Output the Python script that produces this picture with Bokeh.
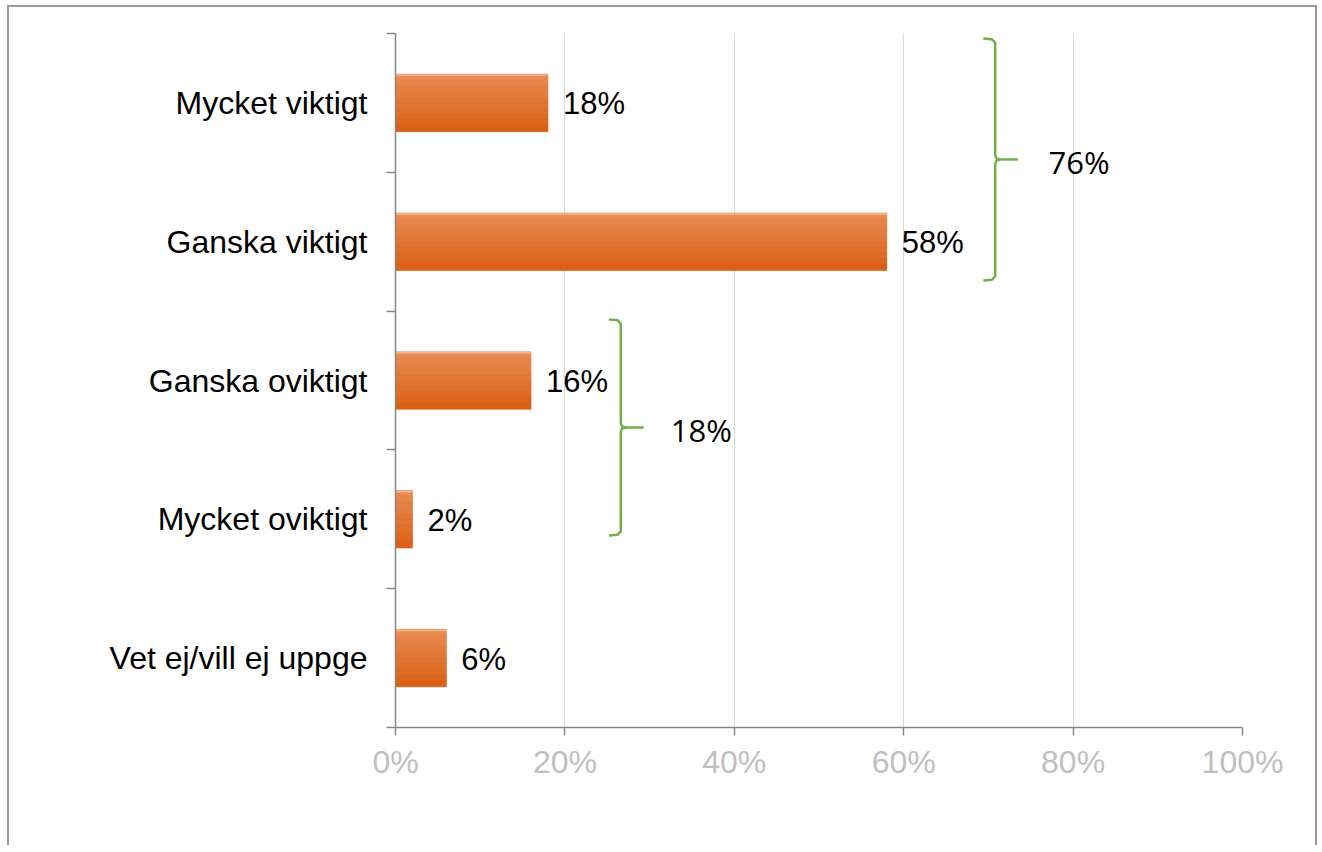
from bokeh.plotting import figure
from bokeh.models import ColumnDataSource, FixedTicker, Range1d
from bokeh.core.properties import value
from bokeh.embed import file_html
from bokeh.resources import INLINE

# ---- data ----
categories = ["Mycket viktigt", "Ganska viktigt", "Ganska oviktigt", "Mycket oviktigt", "Vet ej/vill ej uppge"]
values = [18, 58, 16, 2, 6]
value_labels = ["18%", "58%", "16%", "2%", "6%"]
group_totals = [76, 18]            # sums shown by the braces
group_labels = ["76%", "18%"]
x_ticks = [0, 20, 40, 60, 80, 100]
x_tick_labels = ["0%", "20%", "40%", "60%", "80%", "100%"]

n = len(categories)
centers = [n - 0.5 - i for i in range(n)]

W, H = 1310, 840
p = figure(width=W, height=H, output_backend="svg", toolbar_location=None,
           x_range=Range1d(0, 100), y_range=Range1d(0, n),
           min_border_left=386, min_border_right=77, min_border_top=26, min_border_bottom=120)
p.outline_line_color = None
p.background_fill_color = "white"
p.border_fill_color = "white"
p.styles = {"border-top": "2px solid #9a9a9a", "border-left": "2px solid #9a9a9a",
            "border-right": "2px solid #9a9a9a", "margin-left": "7px", "margin-top": "5px"}

# grid
p.ygrid.grid_line_color = None
p.xgrid.ticker = FixedTicker(ticks=x_ticks[1:])
p.xgrid.grid_line_color = "#D9D9D9"
p.xgrid.grid_line_width = 1

# x axis
p.xaxis.ticker = FixedTicker(ticks=x_ticks)
p.xaxis.major_label_overrides = {t: l for t, l in zip(x_ticks, x_tick_labels)}
p.xaxis.axis_line_color = "#868686"
p.xaxis.axis_line_width = 1.5
p.xaxis.major_tick_line_color = "#868686"
p.xaxis.major_tick_line_width = 1.5
p.xaxis.major_tick_out = 8
p.xaxis.major_tick_in = 0
p.xaxis.minor_tick_line_color = None
p.xaxis.major_label_text_font = "Liberation Sans"
p.xaxis.major_label_text_font_size = "32px"
p.xaxis.major_label_text_color = "#BFBFBF"
p.xaxis.major_label_standoff = 8

# y axis: labels at category centres, ticks at boundaries
p.yaxis.ticker = FixedTicker(ticks=centers, minor_ticks=list(range(n + 1)))
p.yaxis.major_label_overrides = {c: cat for c, cat in zip(centers, categories)}
p.yaxis.axis_line_color = "#868686"
p.yaxis.axis_line_width = 1.5
p.yaxis.major_tick_line_color = None
p.yaxis.major_tick_out = 0
p.yaxis.major_tick_in = 0
p.yaxis.minor_tick_line_color = "#868686"
p.yaxis.minor_tick_line_width = 1.5
p.yaxis.minor_tick_out = 9
p.yaxis.minor_tick_in = 0
p.yaxis.major_label_text_font = "Liberation Sans"
p.yaxis.major_label_text_font_size = "32px"
p.yaxis.major_label_text_color = "black"
p.yaxis.major_label_standoff = 19

# bars with vertical gradient
bar_h = 0.41
top_c = (0xE9, 0x8A, 0x52)
bot_c = (0xDA, 0x62, 0x16)
base = ColumnDataSource(dict(y=centers, right=values))
p.hbar(y="y", left=0, right="right", height=bar_h, source=base, fill_color="#E3762F", line_color=None)
N = 10
for k in range(N):
    t = k / (N - 1)
    col = "#%02x%02x%02x" % tuple(int(round(a + (b - a) * t)) for a, b in zip(top_c, bot_c))
    off = bar_h / 2 - (k + 0.5) * bar_h / N
    src = ColumnDataSource(dict(y=[c + off for c in centers], right=values))
    p.hbar(y="y", left=0, right="right", height=bar_h / N + 0.004, source=src,
           fill_color=col, line_color=col, line_width=0.6)
# light top highlight
hl = ColumnDataSource(dict(y=[c + bar_h / 2 - 0.006 for c in centers], right=values))
p.hbar(y="y", left=0, right="right", height=0.012, source=hl, fill_color="#F3B48E", line_color=None)

# value labels
lab = ColumnDataSource(dict(x=values, y=centers, t=value_labels))
p.text(x="x", y="y", text="t", source=lab, x_offset=15, y_offset=1, text_align="left",
       text_baseline="middle", text_font=value("Liberation Sans"), text_font_size="31px",
       text_color="black")

# braces
green = "#6FB04A"
brace_x = [70.8, 26.6]
brace_span = [(4.964, 3.22), (2.94, 1.383)]
label_dx = [6.3, 5.9]
for gi in range(len(group_labels)):
    bx = brace_x[gi]
    top, bot = brace_span[gi]
    mid = (top + bot) / 2
    hook = 1.4
    r = 0.03
    xs = [bx - hook, bx - 0.4, bx, bx, bx + 0.15, bx + 0.6, bx + 0.15, bx, bx, bx - 0.4, bx - hook]
    ys = [top, top - 0.005, top - r, mid + r, mid + 0.008, mid, mid - 0.008, mid - r, bot + r, bot + 0.005, bot]
    p.line(xs, ys, line_color=green, line_width=2.5)
    p.line([bx + 0.6, bx + 2.7], [mid, mid], line_color=green, line_width=2.5)
    p.text(x=[bx + label_dx[gi]], y=[mid - 0.02], text=[group_labels[gi]], text_align="left",
           text_baseline="middle", text_font=value("Open Sans"), text_font_size="31px",
           text_color="black")

open("out.html", "w").write(file_html(p, INLINE))
